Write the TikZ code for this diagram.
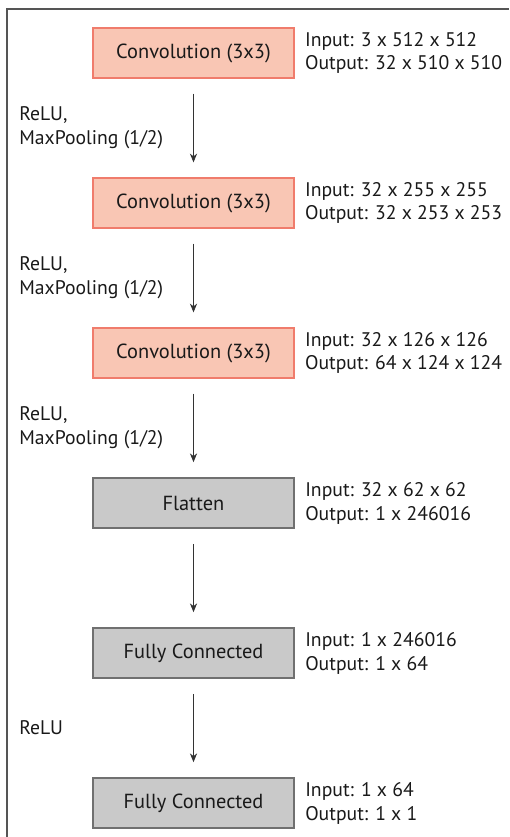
\documentclass[tikz,border=0pt]{standalone}
\usepackage{fontspec}
\setmainfont{PT Sans}
\usetikzlibrary{positioning,arrows.meta}

\definecolor{convfill}{HTML}{F9C6B4}
\definecolor{convline}{HTML}{F07C6C}
\definecolor{densefill}{HTML}{C9C9C9}
\definecolor{denseline}{HTML}{707070}
\definecolor{framegray}{HTML}{555555}

\tikzset{
    layer/.style={minimum width=5.03cm, minimum height=1.25cm, inner sep=0pt,
                  font=\fontsize{14.5}{17}\selectfont, text=black!90},
    conv/.style={layer, fill=convfill, draw=convline, line width=0.9pt},
    dense/.style={layer, fill=densefill, draw=denseline, line width=1.2pt},
    shape info/.style={anchor=west, align=left, inner sep=0pt,
                  font=\fontsize{14}{17}\selectfont, text=black!90},
    flow/.style={-{Stealth[length=2.2mm,width=1.8mm]}, black!80, line width=0.6pt,
                 shorten <=0.375cm, shorten >=0.375cm},
}

\begin{document}
\begin{tikzpicture}[x=0.025cm, y=-0.025cm]

    \useasboundingbox (0,0) rectangle (509,837);
    \draw[framegray, line width=1pt] (7,837) -- (7,9) -- (509,9);

    \node[conv]  (conv1) at (193.5, 53)  {Convolution (3x3)};
    \node[conv]  (conv2) at (193.5, 203) {Convolution (3x3)};
    \node[conv]  (conv3) at (193.5, 353) {Convolution (3x3)};
    \node[dense] (flat)  at (193.5, 503) {Flatten};
    \node[dense] (fc1)   at (193.5, 653) {Fully Connected};
    \node[dense] (fc2)   at (193.5, 803) {Fully Connected};

    \node[shape info, right=0.25cm of conv1] (io1) {Input: 3 x 512 x 512\\Output: 32 x 510 x 510};
    \node[shape info, right=0.25cm of conv2] (io2) {Input: 32 x 255 x 255\\Output: 32 x 253 x 253};
    \node[shape info, right=0.25cm of conv3] (io3) {Input: 32 x 126 x 126\\Output: 64 x 124 x 124};
    \node[shape info, right=0.25cm of flat]  (io4) {Input: 32 x 62 x 62\\Output: 1 x 246016};
    \node[shape info, right=0.25cm of fc1]   (io5) {Input: 1 x 246016\\Output: 1 x 64};
    \node[shape info, right=0.25cm of fc2]   (io6) {Input: 1 x 64\\Output: 1 x 1};

    \draw[flow] (conv1) -- (conv2);
    \draw[flow] (conv2) -- (conv3);
    \draw[flow] (conv3) -- (flat);
    \draw[flow] (flat)  -- (fc1);
    \draw[flow] (fc1)   -- (fc2);

    \node[shape info] (act1) at (19, 128) {ReLU,\\MaxPooling (1/2)};
    \node[shape info] (act2) at (19, 278) {ReLU,\\MaxPooling (1/2)};
    \node[shape info] (act3) at (19, 428) {ReLU,\\MaxPooling (1/2)};
    \node[shape info] (act5) at (19, 728) {ReLU};

\end{tikzpicture}
\end{document}
